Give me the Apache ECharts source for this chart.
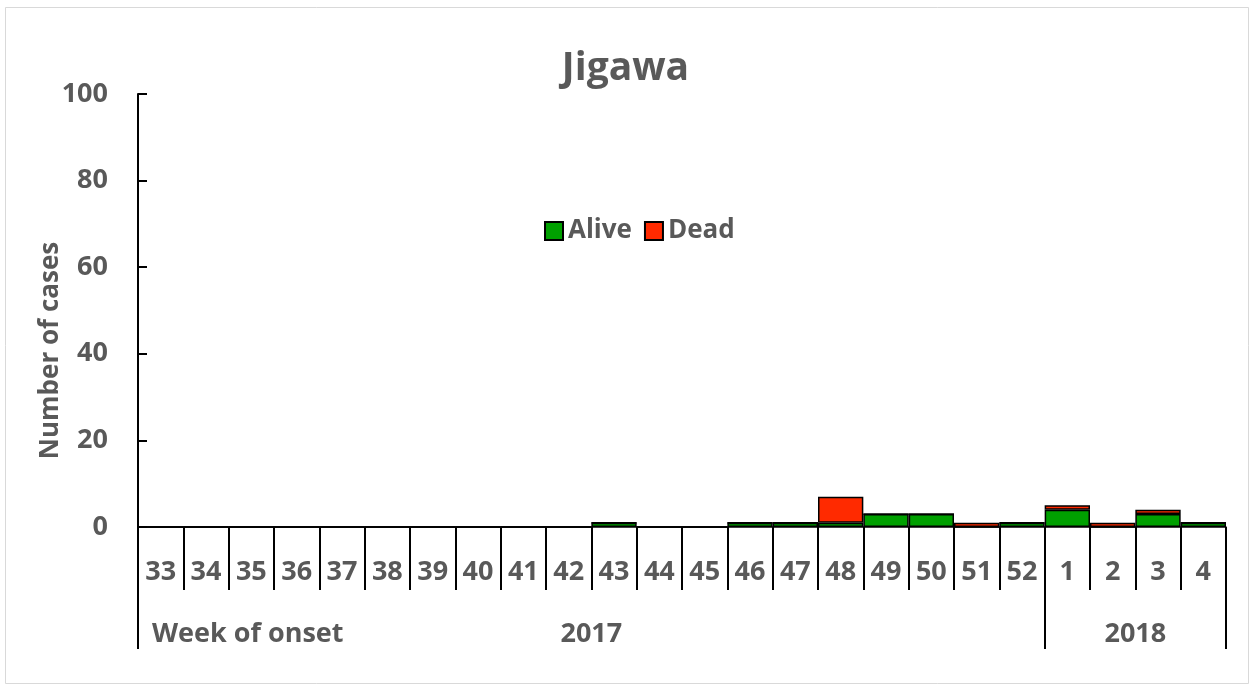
<!DOCTYPE html>
<html lang="en">
<head>
<meta charset="UTF-8">
<title>Jigawa</title>
<style>
  html, body { margin: 0; padding: 0; background: #fff; }
  #main { width: 1251px; height: 690px; }
</style>
</head>
<body>
<div id="main"></div>

<script src="https://cdn.jsdelivr.net/npm/echarts@6/dist/echarts.min.js"></script>
<script>
// week of onset, 2017 wk 33 .. 2018 wk 4
var weeks = ['33','34','35','36','37','38','39','40','41','42','43','44','45','46','47','48','49','50','51','52','1','2','3','4'];
var alive = [0,0,0,0,0,0,0,0,0,0,1,0,0,1,1,1,3,3,0,1,4,0,3,1];
var dead  = [0,0,0,0,0,0,0,0,0,0,0,0,0,0,0,6,0,0,1,0,1,1,1,0];
var yTicks = [0, 20, 40, 60, 80, 100];
// year row: label position in week units from the start of the axis
var years = [{ label: '2017', at: 10 }, { label: '2018', at: 22 }];
var yearStartIdx = [0, 20];

var gray = '#595959';
var font = 'Open Sans';

var myChart = echarts.init(document.getElementById('main'));

var option = {
    animation: false,
    backgroundColor: '#fff',
    title: {
        text: 'Jigawa',
        left: 'center',
        top: 44,
        textStyle: { fontFamily: font, fontWeight: 'bold', fontSize: 39, color: gray }
    },
    legend: {
        data: ['Alive', 'Dead'],
        left: 539,
        top: 213,
        icon: 'rect',
        itemWidth: 18,
        itemHeight: 18,
        itemGap: 12,
        textStyle: { fontFamily: font, fontWeight: 'bold', fontSize: 26, color: gray }
    },
    grid: {
        left: 138,
        right: 25,
        top: 94,
        bottom: 163,
        outerBoundsMode: 'none'
    },
    xAxis: [
        {
            type: 'category',
            data: weeks,
            position: 'bottom',
            axisLine: { lineStyle: { color: '#000', width: 1.5 } },
            axisTick: { show: true, interval: 0, length: 63, lineStyle: { color: '#000', width: 2 } },
            axisLabel: {
                interval: 0, margin: 45, verticalAlign: 'middle',
                fontFamily: font, fontWeight: 'bold', fontSize: 27, color: gray
            },
            splitLine: { show: false }
        },
        {
            type: 'category',
            data: weeks,
            position: 'bottom',
            axisLine: { show: false },
            axisTick: {
                show: true, length: 122,
                interval: function (idx) { return yearStartIdx.indexOf(idx) >= 0; },
                lineStyle: { color: '#000', width: 2 }
            },
            axisLabel: { show: false },
            splitLine: { show: false }
        },
        {
            type: 'value',
            min: 0,
            max: weeks.length,
            interval: 1,
            position: 'bottom',
            offset: 107,
            name: 'Week of onset',
            nameLocation: 'start',
            nameGap: -14,
            nameMoveOverlap: false,
            nameTextStyle: { align: 'left', verticalAlign: 'middle', fontFamily: font, fontWeight: 'bold', fontSize: 27, color: gray },
            axisLine: { show: false },
            axisTick: { show: false },
            splitLine: { show: false },
            axisLabel: {
                margin: 0, verticalAlign: 'middle',
                fontFamily: font, fontWeight: 'bold', fontSize: 27, color: gray,
                formatter: function (v) {
                    for (var i = 0; i < years.length; i++) {
                        if (years[i].at === v) return years[i].label;
                    }
                    return '';
                }
            }
        }
    ],
    yAxis: {
        type: 'value',
        min: yTicks[0],
        max: yTicks[yTicks.length - 1],
        interval: yTicks[1] - yTicks[0],
        name: 'Number of cases',
        nameLocation: 'middle',
        nameGap: 74,
        nameMoveOverlap: false,
        nameTextStyle: { fontFamily: font, fontWeight: 'bold', fontSize: 26, color: gray, padding: [0, 80, 0, 0] },
        axisLine: { show: true, lineStyle: { color: '#000', width: 2 } },
        axisTick: { show: true, inside: true, length: 9, lineStyle: { color: '#000', width: 2 } },
        axisLabel: { margin: 30, fontFamily: font, fontWeight: 'bold', fontSize: 27, color: gray },
        splitLine: { show: false }
    },
    series: [
        {
            name: 'Alive',
            type: 'bar',
            stack: 'cases',
            barCategoryGap: '0%',
            data: alive,
            itemStyle: { color: '#00a000', borderColor: '#000', borderWidth: 1.5 }
        },
        {
            name: 'Dead',
            type: 'bar',
            stack: 'cases',
            barCategoryGap: '0%',
            data: dead,
            itemStyle: { color: '#ff2a00', borderColor: '#000', borderWidth: 1.5 }
        }
    ],
    graphic: [
        {
            type: 'rect',
            shape: { x: 5.5, y: 7.5, width: 1243, height: 676 },
            style: { fill: 'none', stroke: '#d9d9d9', lineWidth: 1 },
            silent: true
        }
    ]
};

myChart.setOption(option);
</script>
</body>
</html>
